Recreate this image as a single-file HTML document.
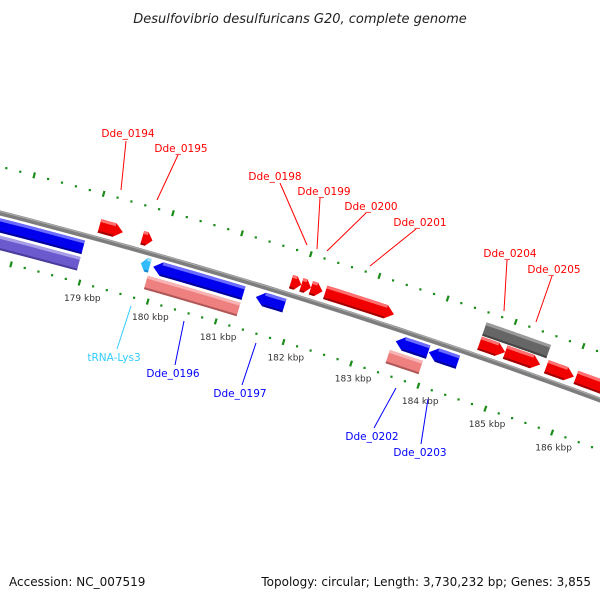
<!DOCTYPE html>
<html><head><meta charset="utf-8"><style>
html,body{margin:0;padding:0;background:#fff;}
svg{display:block;font-family:"DejaVu Sans","Liberation Sans",sans-serif;}
</style></head><body>
<svg id="map" width="600" height="600" viewBox="0 0 600 600" xmlns="http://www.w3.org/2000/svg">
<rect width="600" height="600" fill="#fff"/>
<text x="300" y="23" text-anchor="middle" font-size="13" font-style="italic" fill="#222">Desulfovibrio desulfuricans G20, complete genome</text>
<g id="rings"></g>
<g id="backbone"></g>
<g id="features"></g>
<g id="labels"></g>
<text x="9" y="586" font-size="12" fill="#111">Accession: NC_007519</text>
<text x="591" y="586" text-anchor="end" font-size="12" fill="#111">Topology: circular; Length: 3,730,232 bp; Genes: 3,855</text>
</svg>
<script>
// ---- data ----
const tickKbp = [179,180,181,182,183,184,185,186];
const featNames  = ["left-blue","left-purple","Dde_0194","Dde_0195","tRNA-Lys3","Dde_0196","Dde_0196-rna","Dde_0197","Dde_0198","Dde_0199","Dde_0200","Dde_0201","Dde_0202","Dde_0202-rna","Dde_0203","Dde_0204-gray","Dde_0205-gray","Dde_0204","Dde_0205","Dde_0206","Dde_0207"];
const featStart  = [175.71,175.85,179.06,179.68,179.76,179.94,179.90,181.44,181.85,182.00,182.14,182.35,183.50,183.46,183.99,184.62,185.01,184.62,185.00,185.61,186.05];
const featEnd    = [178.92,178.92,179.40,179.83,179.89,181.26,181.26,181.86,182.00,182.14,182.31,183.36,183.98,183.95,184.42,185.04,185.57,185.00,185.52,186.02,186.90];
const featRow    = ["rev1","rev2","fwd1","fwd1","rev1","rev1","rev2","rev1","fwd1","fwd1","fwd1","fwd1","rev1","rev2","rev1","fwd2","fwd2","fwd1","fwd1","fwd1","fwd1"];
const featKind   = ["blue","purple","red","red","cyan","blue","pink","blue","red","red","red","red","blue","pink","blue","gray","gray","red","red","red","red"];
const labelText  = ["Dde_0194","Dde_0195","Dde_0198","Dde_0199","Dde_0200","Dde_0201","Dde_0204","Dde_0205","tRNA-Lys3","Dde_0196","Dde_0197","Dde_0202","Dde_0203"];
const labelKind  = ["red","red","red","red","red","red","red","red","cyan","blue","blue","blue","blue"];
const labelXY    = [[128,137],[181,152],[275,180],[324,195],[371,210],[420,226],[510,257],[554,273],[114,361],[173,377],[240,397],[372,440],[420,456]];
const lineFrom   = [[126,141],[178,155],[280,183],[320,198],[366,213],[416,229],[507,260],[552,276],[117,349],[175,365],[242,385],[374,428],[421,444]];
const lineTo     = [[121,190],[157,200],[307,245],[317,249],[327,251],[370,266],[504,311],[536,322],[131,306],[184,321],[256,343],[396,388],[428,399]];

// ---- geometry ----
const A=[0,213],B=[300,298],C=[600,400];
function circ(a,b,c){const d=2*(a[0]*(b[1]-c[1])+b[0]*(c[1]-a[1])+c[0]*(a[1]-b[1]));
 const a2=a[0]*a[0]+a[1]*a[1],b2=b[0]*b[0]+b[1]*b[1],c2=c[0]*c[0]+c[1]*c[1];
 return [(a2*(b[1]-c[1])+b2*(c[1]-a[1])+c2*(a[1]-b[1]))/d,(a2*(c[0]-b[0])+b2*(a[0]-c[0])+c2*(b[0]-a[0]))/d];}
const O=circ(A,B,C);
const R=Math.hypot(A[0]-O[0],A[1]-O[1]);
const phA=Math.atan2(A[1]-O[1],A[0]-O[0]);
let phC=Math.atan2(C[1]-O[1],C[0]-O[0]);
let dph=phC-phA; while(dph>Math.PI)dph-=2*Math.PI; while(dph<-Math.PI)dph+=2*Math.PI;
const dir=Math.sign(dph);
const PXK=71.4, S179=95;
function P(kbp,off){const s=S179+(kbp-179)*PXK;const ph=phA+dir*s/R;const r=R-off;return [O[0]+r*Math.cos(ph),O[1]+r*Math.sin(ph)];}
const rowOff={fwd1:-13,fwd2:-28,rev1:12,rev2:29};
const colors={red:["#f00000","#ff7070","#a00000"],blue:["#0000ee","#6b6bff","#00009a"],purple:["#6a5acd","#a79ce8","#4a3c9c"],pink:["#ee8080","#f8b4b4","#b05858"],gray:["#666","#9a9a9a","#444"],cyan:["#33bbff","#99ddff","#1188cc"]};
const labelColor={red:"#ff0000",blue:"#0000ff",cyan:"#33ccff"};
const NS="http://www.w3.org/2000/svg";
function mk(tag,attrs,parent){const e=document.createElementNS(NS,tag);for(const k in attrs)e.setAttribute(k,attrs[k]);parent.appendChild(e);return e;}
function pts(a){return a.map(p=>p[0].toFixed(1)+","+p[1].toFixed(1)).join(" ");}

// tick rings
const rings=document.getElementById('rings');
[-45,47].forEach(function(off){
 for(let k=1750;k<=1890;k+=2){const kb=k/10;
  if(k%10===0){const a=P(kb,off-3),b=P(kb,off+3);
   const l=mk('line',{x1:a[0],y1:a[1],x2:b[0],y2:b[1],stroke:"#1a8c1a","stroke-width":2.2},rings);
   
   
  } else {const c=P(kb,off);
   const d=mk('rect',{x:c[0]-1.1,y:c[1]-1.1,width:2.2,height:2.2,fill:"#1a8c1a"},rings);
   
   }
 }});
tickKbp.forEach(function(kb){const c=P(kb,63);
 const t=mk('text',{x:c[0]+7,y:c[1]+3,"text-anchor":"middle","font-size":"9",fill:"#333"},rings);
 t.textContent=kb+" kbp";
 
 });

// backbone
const bb=document.getElementById('backbone');
function arcPts(k0,k1,off,n){const a=[];for(let i=0;i<=n;i++)a.push(P(k0+(k1-k0)*i/n,off));return a;}
let bl=mk('polyline',{points:pts(arcPts(175,188,0,40)),fill:"none",stroke:"#7d7d7d","stroke-width":5},bb);


let bh=mk('polyline',{points:pts(arcPts(175,188,-1.5,40)),fill:"none",stroke:"#aaa","stroke-width":1.2},bb);



// features
const fg=document.getElementById('features');
featNames.forEach(function(nm,i){
 const s=featStart[i],e=featEnd[i],off=rowOff[featRow[i]],kind=featKind[i];
 const h=7,len=e-s;const head=Math.min(0.12,len*0.55);
 const fwd=featRow[i].indexOf('fwd')===0, arrow=(kind!=="gray"&&kind!=="pink"&&kind!=="purple");
 let poly=[];
 if(!arrow){poly=arcPts(s,e,off-h,6).concat(arcPts(e,s,off+h,6));}
 else if(fwd){const bE=e-head;poly=arcPts(s,bE,off-h,6).concat([P(e,off)]).concat(arcPts(bE,s,off+h,6));}
 else{const bS=s+head;poly=[P(s,off)].concat(arcPts(bS,e,off-h,6)).concat(arcPts(e,bS,off+h,6));}
 const g=mk('g',{},fg);
 
 
 mk('polygon',{points:pts(poly),fill:colors[kind][0]},g);
 const b0=arrow&&!fwd?s+head:s, b1=arrow&&fwd?e-head:e;
 mk('polygon',{points:pts(arcPts(b0,b1,off+h-2,4).concat(arcPts(b1,b0,off+h,4))),fill:colors[kind][2]},g);
 mk('polygon',{points:pts(arcPts(b0,b1,off-h,4).concat(arcPts(b1,b0,off-h+3,4))),fill:colors[kind][1]},g);
});

// labels
const lg=document.getElementById('labels');
labelText.forEach(function(t,i){const col=labelColor[labelKind[i]];
 const l=mk('line',{x1:lineFrom[i][0],y1:lineFrom[i][1],x2:lineTo[i][0],y2:lineTo[i][1],stroke:col,"stroke-width":1},lg);
 
 
 const tx=mk('text',{x:labelXY[i][0],y:labelXY[i][1],"text-anchor":"middle","font-size":"10.5",fill:col},lg);
 tx.textContent=t;
 
 });
</script>
</body></html>
